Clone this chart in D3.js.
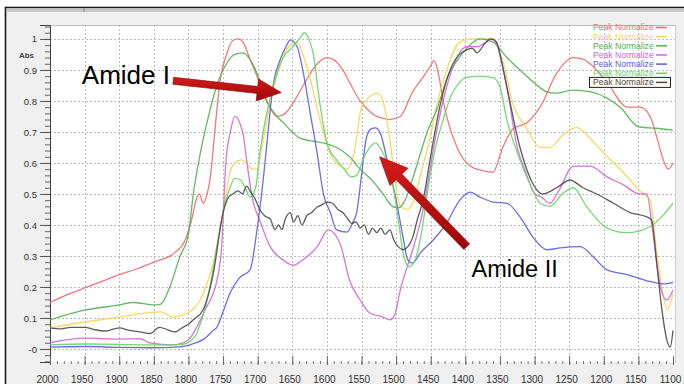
<!DOCTYPE html>
<html><head><meta charset="utf-8">
<script src="https://cdn.jsdelivr.net/npm/d3@7"></script>
<style>
html,body{margin:0;padding:0;background:#fff;}
svg{display:block;}
text{font-family:"Liberation Sans Narrow","Arial Narrow","Liberation Sans",Arial,sans-serif;}
.ann{font-family:"Liberation Sans",Arial,sans-serif;}
</style></head>
<body>
<script>
// ---------- data (wavenumber cm-1, absorbance) ----------
const redSeries = [[2000,0.15],[1975,0.175],[1950,0.197],[1925,0.218],[1900,0.24],[1875,0.258],[1850,0.28],[1820,0.31],[1805,0.35],[1795,0.42],[1789,0.48],[1784,0.5],[1779,0.47],[1773,0.5],[1768,0.56],[1762,0.7],[1754,0.87],[1745,0.95],[1736,0.995],[1728,1.0],[1721,0.99],[1712,0.94],[1701,0.88],[1687,0.80],[1672,0.75],[1660,0.76],[1650,0.79],[1629,0.87],[1614,0.92],[1600,0.94],[1588,0.93],[1577,0.90],[1565,0.85],[1552,0.80],[1540,0.77],[1528,0.75],[1509,0.74],[1494,0.75],[1476,0.83],[1460,0.88],[1451,0.91],[1445,0.93],[1439,0.89],[1432,0.8],[1427,0.75],[1412,0.65],[1393,0.59],[1375,0.575],[1360,0.57],[1346,0.65],[1331,0.71],[1311,0.73],[1292,0.78],[1268,0.89],[1244,0.94],[1230,0.935],[1215,0.91],[1195,0.86],[1166,0.78],[1148,0.78],[1133,0.75],[1123,0.68],[1114,0.61],[1107,0.58],[1100,0.6]];
const yellowSeries = [[2000,0.068],[1950,0.087],[1900,0.103],[1855,0.118],[1840,0.12],[1822,0.103],[1808,0.11],[1795,0.125],[1783,0.158],[1775,0.2],[1765,0.27],[1757,0.35],[1748,0.47],[1740,0.57],[1733,0.6],[1724,0.61],[1716,0.6],[1708,0.58],[1701,0.58],[1694,0.65],[1682,0.79],[1670,0.9],[1660,0.96],[1650,0.985],[1643,0.99],[1633,0.94],[1624,0.87],[1610,0.74],[1595,0.63],[1581,0.59],[1571,0.58],[1560,0.64],[1550,0.78],[1540,0.81],[1526,0.825],[1518,0.79],[1509,0.675],[1502,0.55],[1494,0.46],[1485,0.45],[1476,0.47],[1465,0.56],[1451,0.68],[1440,0.8],[1427,0.9],[1408,0.99],[1390,1.0],[1360,1.0],[1346,0.93],[1331,0.79],[1311,0.71],[1292,0.65],[1278,0.65],[1259,0.69],[1239,0.715],[1220,0.68],[1195,0.62],[1172,0.57],[1148,0.51],[1133,0.48],[1124,0.32],[1114,0.17],[1108,0.126],[1100,0.18]];
const greenSeries = [[2000,0.094],[1950,0.125],[1900,0.142],[1880,0.15],[1850,0.142],[1840,0.145],[1827,0.2],[1812,0.3],[1800,0.37],[1793,0.5],[1783,0.63],[1770,0.76],[1759,0.85],[1745,0.92],[1733,0.95],[1721,0.955],[1710,0.93],[1701,0.89],[1687,0.80],[1672,0.75],[1663,0.73],[1650,0.70],[1639,0.68],[1620,0.67],[1606,0.665],[1586,0.65],[1567,0.62],[1552,0.58],[1533,0.54],[1519,0.5],[1505,0.46],[1497,0.455],[1487,0.48],[1476,0.55],[1465,0.63],[1455,0.7],[1440,0.78],[1427,0.87],[1412,0.93],[1398,0.97],[1379,1.0],[1360,0.99],[1340,0.94],[1321,0.9],[1296,0.85],[1283,0.83],[1270,0.825],[1244,0.835],[1220,0.83],[1196,0.81],[1172,0.77],[1158,0.73],[1148,0.716],[1125,0.712],[1100,0.706]];
const violetSeries = [[2000,0.02],[1950,0.035],[1900,0.032],[1870,0.033],[1856,0.02],[1822,0.013],[1800,0.03],[1788,0.07],[1775,0.13],[1766,0.17],[1759,0.22],[1752,0.33],[1746,0.6],[1739,0.705],[1733,0.75],[1726,0.73],[1720,0.68],[1716,0.61],[1707,0.48],[1697,0.415],[1682,0.33],[1663,0.287],[1649,0.27],[1635,0.287],[1614,0.33],[1598,0.384],[1581,0.34],[1567,0.22],[1552,0.158],[1538,0.116],[1519,0.103],[1509,0.094],[1502,0.11],[1494,0.19],[1484,0.265],[1476,0.32],[1461,0.45],[1451,0.58],[1440,0.72],[1427,0.845],[1412,0.94],[1398,0.975],[1383,0.975],[1370,0.99],[1360,1.0],[1350,0.95],[1340,0.845],[1325,0.65],[1311,0.56],[1300,0.5],[1290,0.49],[1278,0.47],[1265,0.51],[1244,0.59],[1220,0.59],[1195,0.555],[1172,0.53],[1148,0.5],[1138,0.5],[1129,0.375],[1119,0.21],[1109,0.158],[1100,0.19]];
const blueSeries = [[2000,0.006],[1950,0.008],[1900,0.005],[1850,0.004],[1820,0.006],[1800,0.012],[1790,0.02],[1779,0.03],[1764,0.06],[1759,0.07],[1750,0.12],[1740,0.18],[1726,0.23],[1711,0.255],[1701,0.384],[1692,0.545],[1685,0.7],[1678,0.845],[1668,0.93],[1658,0.98],[1653,0.997],[1643,0.975],[1634,0.89],[1624,0.76],[1614,0.63],[1605,0.5],[1595,0.44],[1586,0.384],[1571,0.377],[1562,0.41],[1557,0.44],[1550,0.56],[1543,0.68],[1536,0.71],[1530,0.713],[1523,0.697],[1513,0.61],[1499,0.47],[1490,0.36],[1483,0.287],[1476,0.277],[1465,0.31],[1447,0.35],[1427,0.406],[1408,0.48],[1393,0.506],[1379,0.49],[1360,0.474],[1340,0.47],[1321,0.426],[1302,0.36],[1282,0.32],[1263,0.326],[1234,0.33],[1215,0.297],[1195,0.255],[1166,0.24],[1138,0.22],[1114,0.21],[1100,0.215]];
const lightGreenSeries = [[2000,0.013],[1950,0.016],[1900,0.015],[1850,0.013],[1810,0.015],[1795,0.03],[1788,0.05],[1783,0.08],[1775,0.14],[1769,0.2],[1759,0.33],[1750,0.44],[1740,0.52],[1733,0.55],[1725,0.545],[1718,0.52],[1711,0.49],[1703,0.52],[1697,0.63],[1687,0.76],[1678,0.845],[1663,0.94],[1649,0.975],[1640,1.0],[1632,1.02],[1626,1.0],[1620,0.955],[1610,0.79],[1600,0.665],[1586,0.61],[1575,0.58],[1565,0.555],[1557,0.56],[1548,0.61],[1538,0.65],[1530,0.665],[1522,0.645],[1513,0.6],[1505,0.53],[1497,0.42],[1489,0.3],[1481,0.265],[1472,0.29],[1463,0.38],[1455,0.5],[1445,0.63],[1432,0.74],[1420,0.82],[1410,0.855],[1400,0.875],[1380,0.88],[1360,0.875],[1350,0.845],[1340,0.74],[1321,0.61],[1302,0.51],[1292,0.47],[1278,0.46],[1260,0.5],[1244,0.52],[1225,0.46],[1195,0.39],[1166,0.375],[1133,0.395],[1115,0.43],[1100,0.47]];
const blackSeries = [[2000,0.068],[1985,0.065],[1970,0.07],[1950,0.07],[1935,0.062],[1920,0.058],[1900,0.068],[1885,0.06],[1870,0.055],[1855,0.05],[1842,0.07],[1830,0.062],[1820,0.055],[1808,0.07],[1800,0.08],[1793,0.094],[1779,0.126],[1764,0.245],[1750,0.44],[1742,0.49],[1736,0.5],[1728,0.51],[1722,0.5],[1716,0.525],[1710,0.505],[1705,0.49],[1697,0.45],[1690,0.43],[1682,0.42],[1675,0.385],[1670,0.4],[1665,0.385],[1660,0.42],[1653,0.44],[1648,0.41],[1642,0.43],[1636,0.4],[1629,0.43],[1622,0.44],[1614,0.458],[1607,0.465],[1600,0.474],[1592,0.47],[1584,0.45],[1577,0.44],[1570,0.42],[1564,0.405],[1558,0.41],[1552,0.39],[1546,0.4],[1540,0.37],[1534,0.39],[1528,0.375],[1522,0.39],[1516,0.37],[1509,0.384],[1503,0.35],[1497,0.33],[1490,0.32],[1483,0.33],[1476,0.36],[1469,0.42],[1461,0.48],[1451,0.61],[1437,0.78],[1418,0.92],[1398,0.965],[1390,0.97],[1383,0.955],[1372,0.985],[1364,1.0],[1355,0.99],[1348,0.93],[1340,0.845],[1321,0.65],[1307,0.555],[1288,0.5],[1268,0.52],[1249,0.545],[1230,0.52],[1210,0.5],[1186,0.47],[1162,0.44],[1138,0.426],[1131,0.416],[1123,0.265],[1116,0.126],[1109,0.03],[1104,0.006],[1100,0.06]];

const seriesList = [redSeries, yellowSeries, greenSeries, violetSeries, blueSeries, lightGreenSeries, blackSeries];
const seriesNames = ["Peak Normalize","Peak Normalize","Peak Normalize","Peak Normalize","Peak Normalize","Peak Normalize","Peak Normalize"];
const seriesColors = ["#ec6a6c","#f7d452","#52b052","#cf66d6","#5c5ce0","#66d466","#4a4a4a"];

const xMajorTicks = [2000,1950,1900,1850,1800,1750,1700,1650,1600,1550,1500,1450,1400,1350,1300,1250,1200,1150,1100];
const yMajorTicks = [0,0.1,0.2,0.3,0.4,0.5,0.6,0.7,0.8,0.9,1];
const yTickLabels = ["-0","0.1","0.2","0.3","0.4","0.5","0.6","0.7","0.8","0.9","1"];
const yAxisTitle = "Abs";
const annotations = [
  {text:"Amide I", wn:1954, abs:0.855, tailWn:1822, tailAbs:0.865, tipWn:1666, tipAbs:0.827},
  {text:"Amide II", wn:1391, abs:0.232, tailWn:1398, tailAbs:0.33, tipWn:1524, tipAbs:0.62}
];

// ---------- drawing ----------
const W = 684, H = 384;
const svg = d3.select("body").append("svg").attr("width", W).attr("height", H);

const x = d3.scaleLinear().domain([2000,1100]).range([50,673]);
const y = d3.scaleLinear().domain([-0.042,1.045]).range([362,25]);
const plotL = 50, plotR = 675, plotT = y(1.045), plotB = y(-0.042);

// outer frame
svg.append("rect").attr("x",5.5).attr("y",7.5).attr("width",W).attr("height",H)
  .attr("fill","#efefef").attr("stroke","#1a1a1a").attr("stroke-width",1.6);
svg.append("rect").attr("x",6.3).attr("y",8.3).attr("width",W).attr("height",3.5).attr("fill","#c4c4c4");
svg.append("line").attr("x1",84).attr("x2",84).attr("y1",8).attr("y2",12).attr("stroke","#888");

// plot area
svg.append("rect").attr("x",plotL).attr("y",plotT).attr("width",plotR-plotL).attr("height",plotB-plotT)
  .attr("fill","#ffffff");
svg.append("line").attr("x1",plotL).attr("x2",plotR).attr("y1",plotT+0.5).attr("y2",plotT+0.5).attr("stroke","#bdbdbd");
svg.append("line").attr("x1",plotR+0.5).attr("x2",plotR+0.5).attr("y1",plotT).attr("y2",plotB).attr("stroke","#d0d0d0");

// grid
const grid = svg.append("g").attr("stroke","#bcbcbc").attr("stroke-width",1).attr("stroke-dasharray","2,2");
xMajorTicks.filter(d => d<2000 && d>1100).forEach(d => {
  grid.append("line").attr("x1",Math.round(x(d))+0.5).attr("x2",Math.round(x(d))+0.5).attr("y1",plotT).attr("y2",plotB);
});
yMajorTicks.forEach(d => {
  grid.append("line").attr("x1",plotL).attr("x2",plotR).attr("y1",Math.round(y(d))+0.5).attr("y2",Math.round(y(d))+0.5);
});

// axes
const yMinor = d3.range(-0.04, 1.041, 0.02).map(v => +v.toFixed(2));
const gyMinor = svg.append("g").attr("transform",`translate(${plotL},0)`)
  .call(d3.axisLeft(y).tickValues(yMinor).tickSize(5).tickFormat(""));
gyMinor.select(".domain").remove();
const gy = svg.append("g").attr("transform",`translate(${plotL},0)`)
  .call(d3.axisLeft(y).tickValues(yMajorTicks).tickSize(10).tickPadding(3)
    .tickFormat((d,i) => yTickLabels[i]));
gy.selectAll("line").attr("stroke","#555");
gyMinor.selectAll("line").attr("stroke","#666");
gy.select(".domain").attr("stroke","#444");
gy.selectAll("text").attr("font-size",9.5).attr("fill","#333");

const xMinor = d3.range(2000, 1099, -10);
const gxMinor = svg.append("g").attr("transform",`translate(0,364)`)
  .call(d3.axisBottom(x).tickValues(xMinor).tickSizeInner(-3).tickSizeOuter(0).tickFormat(""));
gxMinor.select(".domain").remove();
gxMinor.selectAll("line").attr("stroke","#777");
const gx = svg.append("g").attr("transform",`translate(0,365)`)
  .call(d3.axisBottom(x).tickValues(xMajorTicks).tickSizeInner(-9).tickSizeOuter(0).tickPadding(11)
    .tickFormat(d3.format("d")));
gx.select(".domain").remove();
gx.selectAll("line").attr("stroke","#666");
gx.selectAll("text").attr("font-size",10).attr("fill","#333").attr("dx",-3);

svg.append("text").attr("x",34).attr("y",58).attr("text-anchor","end")
  .attr("font-size",8).attr("font-weight","bold").attr("fill","#444").text(yAxisTitle);

// lines
svg.append("clipPath").attr("id","clip").append("rect")
  .attr("x",plotL).attr("y",plotT).attr("width",plotR-plotL).attr("height",plotB-plotT);
const line = d3.line().x(d => x(d[0])).y(d => y(d[1])).curve(d3.curveMonotoneX);
const gl = svg.append("g").attr("clip-path","url(#clip)");
seriesList.forEach((s,i) => {
  gl.append("path").datum(s).attr("d",line).attr("fill","none")
    .attr("stroke",seriesColors[i]).attr("stroke-width",1.3).attr("stroke-opacity",0.9)
    .attr("stroke-linejoin","round");
});

// legend
const lg = svg.append("g");
seriesNames.forEach((n,i) => {
  const cy = 27.5 + i*9.15;
  if (i === seriesNames.length-1) {
    lg.append("rect").attr("x",589.5).attr("y",cy-5).attr("width",81).attr("height",10)
      .attr("fill","#fffdf2").attr("stroke","#222").attr("stroke-width",1);
  }
  lg.append("text").attr("x",593).attr("y",cy+2.9).attr("font-size",8.6)
    .attr("fill",seriesColors[i]).text(n);
  lg.append("line").attr("x1",656).attr("x2",667).attr("y1",cy).attr("y2",cy)
    .attr("stroke",seriesColors[i]).attr("stroke-width",1.5);
});

// annotations
function arrowPath(x1,y1,x2,y2,sw,hw,hl){
  const dx=x2-x1, dy=y2-y1, L=Math.hypot(dx,dy), ux=dx/L, uy=dy/L, nx=-uy, ny=ux;
  const bx=x2-ux*hl, by=y2-uy*hl;
  const p=[[x1+nx*sw/2,y1+ny*sw/2],[bx+nx*sw/2,by+ny*sw/2],[bx+nx*hw/2,by+ny*hw/2],[x2,y2],
           [bx-nx*hw/2,by-ny*hw/2],[bx-nx*sw/2,by-ny*sw/2],[x1-nx*sw/2,y1-ny*sw/2]];
  return "M"+p.map(q=>q.join(",")).join("L")+"Z";
}
const defs = svg.append("defs");
const grad = defs.append("linearGradient").attr("id","arrowGrad").attr("x1","0").attr("y1","0").attr("x2","0").attr("y2","1");
grad.append("stop").attr("offset","0%").attr("stop-color","#d41c1c");
grad.append("stop").attr("offset","100%").attr("stop-color","#9c0606");

annotations.forEach((a,i) => {
  svg.append("path")
    .attr("d", arrowPath(x(a.tailWn),y(a.tailAbs),x(a.tipWn),y(a.tipAbs), i===0?7:8, i===0?22:25, i===0?24:28))
    .attr("fill","url(#arrowGrad)").attr("stroke","#8a0000").attr("stroke-width",0.6);
  svg.append("text").attr("class","ann").attr("x",x(a.wn)).attr("y",y(a.abs))
    .attr("font-size", i===0?26:23.5).attr("fill","#000").text(a.text);
});
</script>
</body></html>
